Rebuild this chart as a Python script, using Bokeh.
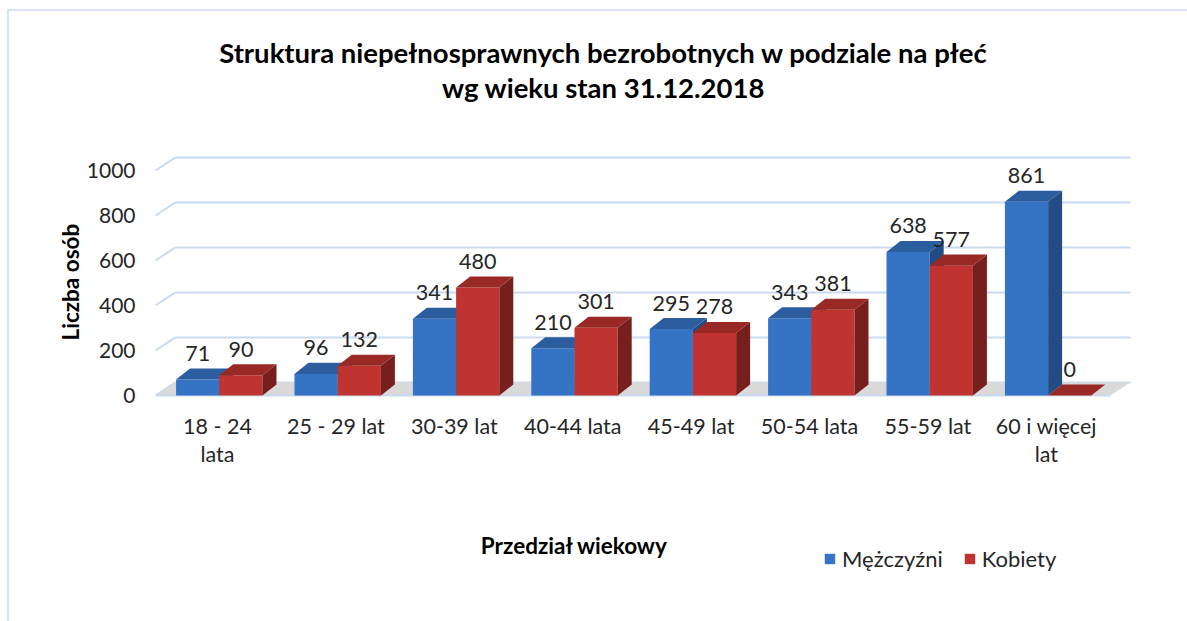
from bokeh.plotting import figure
from bokeh.models import FixedTicker, Legend, LegendItem, Range1d, Title
from bokeh.core.properties import value
from bokeh.embed import file_html
from bokeh.resources import INLINE

# ---------------- data ----------------
categories = ["18 - 24\nlata", "25 - 29 lat", "30-39 lat", "40-44 lata",
              "45-49 lat", "50-54 lata", "55-59 lat", "60 i więcej\nlat"]
men = [71, 96, 341, 210, 295, 343, 638, 861]
women = [90, 132, 480, 301, 278, 381, 577, 0]
y_ticks = [0, 200, 400, 600, 800, 1000]
series_names = ["Mężczyźni", "Kobiety"]
title_lines = ["Struktura niepełnosprawnych bezrobotnych w podziale na płeć",
               "wg wieku stan 31.12.2018"]
x_title = "Przedział wiekowy"
y_title = "Liczba osób"

# ---------------- style ----------------
FONT = "Lato"
TXT = "#262626"
GRID = "#c9daf0"
BLUE_FRONT, BLUE_SIDE, BLUE_TOP = "#3573c4", "#244c84", "#2c5d9e"
RED_FRONT, RED_SIDE, RED_TOP = "#bf3430", "#761f1d", "#992925"

W, H = 1187, 621
BL, BR, BT, BB = 150, 7, 12, 9
X0, X1 = -0.566, 8.133
Y0, Y1 = -964.4, 1702.0

DX, DY = 0.118, 49          # bar depth (data units)
WDX, WDY = 0.169, 58        # back wall offset (data units)
GX0, GX1 = -0.524, 7.711    # grid lines extent
FLOOR_R = 7.54

p = figure(width=W, height=H, min_border_left=BL, min_border_right=BR,
           min_border_top=BT, min_border_bottom=BB,
           x_range=Range1d(X0, X1), y_range=Range1d(Y0, Y1),
           x_axis_location=None,
           output_backend="svg", toolbar_location=None,
           background_fill_color="white", border_fill_alpha=0)
p.outline_line_color = None
p.xgrid.visible = False
p.ygrid.visible = False
p.styles = {"background": "linear-gradient(#d6e3f3,#d6e3f3) 7px 9px / 2px 100% no-repeat, "
                          "linear-gradient(#d6e3f3,#d6e3f3) 7px 9px / 100% 2px no-repeat, white"}

# ---- back wall grid lines ----
p.segment(x0=[GX0] * len(y_ticks), y0=y_ticks,
          x1=[GX0 + WDX] * len(y_ticks), y1=[t + WDY for t in y_ticks],
          line_color=GRID, line_width=2)
p.segment(x0=[GX0 + WDX] * len(y_ticks), y0=[t + WDY for t in y_ticks],
          x1=[GX1] * len(y_ticks), y1=[t + WDY for t in y_ticks],
          line_color=GRID, line_width=2)

# ---- floor ----
p.patch(x=[GX0, FLOOR_R, FLOOR_R + WDX, GX0 + WDX],
        y=[0, 0, WDY, WDY], fill_color="#d9d9d9", line_color=None)
p.segment(x0=[GX0], y0=[0], x1=[FLOOR_R], y1=[0], line_color=GRID, line_width=2)


def bar3d(lefts, rights, vals, front, side, top):
    r = p.quad(left=lefts, right=rights, bottom=[0] * len(vals), top=vals,
               fill_color=front, line_color=None)
    sx = [[rr, rr + DX, rr + DX, rr] for rr in rights]
    sy = [[0, DY, v + DY, v] for v in vals]
    p.patches(xs=sx, ys=sy, fill_color=side, line_color=None)
    tx = [[l, rr, rr + DX, l + DX] for l, rr in zip(lefts, rights)]
    ty = [[v, v, v + DY, v + DY] for v in vals]
    p.patches(xs=tx, ys=ty, fill_color=top, line_color=None)
    return r


idx = list(range(len(categories)))
b_left = [i - 0.35 for i in idx]
b_right = [i + 0.015 for i in idx]
r_left = [i + 0.015 for i in idx]
r_right = [i + 0.38 for i in idx]

rb = bar3d(b_left, b_right, men, BLUE_FRONT, BLUE_SIDE, BLUE_TOP)
rr_ = bar3d(r_left, r_right, women, RED_FRONT, RED_SIDE, RED_TOP)

# ---- data labels ----
for lefts, rights, vals in ((b_left, b_right, men), (r_left, r_right, women)):
    p.text(x=[(l + r) / 2 for l, r in zip(lefts, rights)],
           y=[v + DY for v in vals], text=[str(v) for v in vals],
           text_font=value(FONT), text_font_size="21.5px", text_color=TXT,
           text_align="center", text_baseline="alphabetic", y_offset=-15)

# ---- category labels (x axis) ----
p.text(x=idx, y=[-80] * len(idx), text=categories,
       text_font=value(FONT), text_font_size="21.5px", text_color=TXT,
       text_align="center", text_baseline="top", text_line_height=1.05)

# ---- y axis ----
p.yaxis.ticker = FixedTicker(ticks=y_ticks)
p.yaxis.axis_line_color = None
p.yaxis.major_tick_line_color = None
p.yaxis.minor_tick_line_color = None
p.yaxis.major_label_text_font = FONT
p.yaxis.major_label_text_font_size = "21px"
p.yaxis.major_label_text_color = TXT
p.yaxis.major_label_standoff = 9

p.add_layout(Title(text=y_title, align="left", offset=272, text_font=FONT,
                   text_font_size="22.5px", text_font_style="bold",
                   text_color="black", standoff=0), "left")

# ---- chart title and x title ----
p.text(x=[3.26, 3.26], y=[1524, 1369], text=title_lines,
       text_font=value(FONT), text_font_size="27.5px", text_font_style="bold",
       text_color="black", text_align="center", text_baseline="middle")
p.text(x=[3.015], y=[-665], text=[x_title],
       text_font=value(FONT), text_font_size="22.5px", text_font_style="bold",
       text_color="black", text_align="center", text_baseline="middle")

# ---- legend ----
legend = Legend(items=[LegendItem(label=series_names[0], renderers=[rb]),
                       LegendItem(label=series_names[1], renderers=[rr_])],
                location=(673, 40), orientation="horizontal",
                glyph_width=13, glyph_height=13, spacing=20, padding=0,
                label_standoff=6, label_text_font=FONT, label_text_font_size="22px",
                label_text_color=TXT, border_line_color=None,
                background_fill_alpha=0, margin=0)
p.add_layout(legend)

open("out.html", "w").write(file_html(p, INLINE))
